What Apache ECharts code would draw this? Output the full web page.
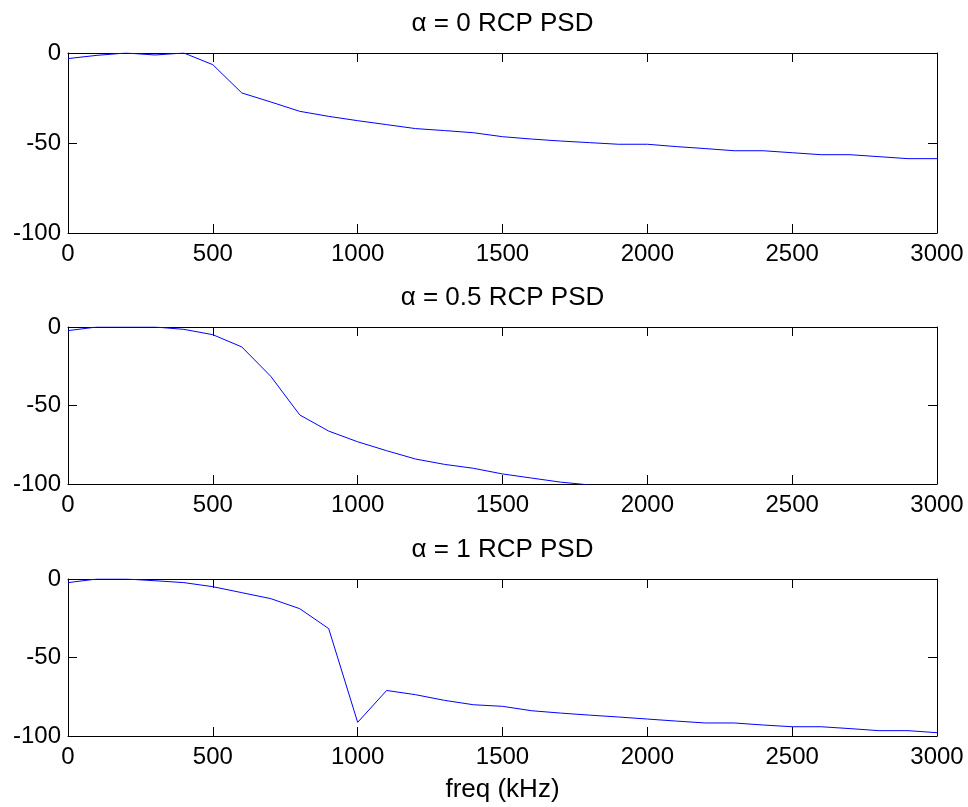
<!DOCTYPE html>
<html>
<head>
<meta charset="utf-8">
<script src="https://cdn.jsdelivr.net/npm/echarts@6/dist/echarts.min.js"></script>
<style>
  html, body { margin: 0; padding: 0; background: #ffffff; }
  #chart { width: 968px; height: 807px; }
</style>
</head>
<body>
<div id="chart"></div>
<script>
// ---- data ----
var freq = [0, 100, 200, 300, 400, 500, 600, 700, 800, 900, 1000,
            1100, 1200, 1300, 1400, 1500, 1600, 1700, 1800, 1900, 2000,
            2100, 2200, 2300, 2400, 2500, 2600, 2700, 2800, 2900, 3000];

var psdAlpha0 = [-3.1, -1.3, 0, -1.1, 0, -6.5, -22.2, -27.2, -32.4, -35.2, -37.6,
                 -39.8, -42.0, -43.1, -44.3, -46.5, -47.8, -48.9, -49.8, -50.7, -50.7,
                 -52.0, -53.1, -54.3, -54.3, -55.4, -56.5, -56.5, -57.6, -58.7, -58.7];

// alpha = 0.5 drops below the -100 axis floor after ~1770 kHz (clipped in the plot)
var psdAlpha05 = [-2.3, 0, 0, 0, -1.5, -4.9, -12.7, -31.4, -56.0, -66.3, -73.1,
                  -78.8, -84.1, -87.5, -90.0, -93.6, -96.2, -98.8, -100.6];

var psdAlpha1 = [-2.3, 0, 0, -1.1, -2.3, -4.9, -8.7, -12.5, -18.9, -31.6, -91.3,
                 -71.0, -73.7, -77.3, -80.1, -81.1, -83.9, -85.4, -86.7, -87.9, -89.2,
                 -90.5, -91.7, -91.7, -93.0, -94.1, -94.1, -95.3, -96.6, -96.6, -97.9];

var titles = ['\u03B1 = 0 RCP PSD', '\u03B1 = 0.5 RCP PSD', '\u03B1 = 1 RCP PSD'];
var xLabel = 'freq (kHz)';
var xMin = 0, xMax = 3000, xStep = 500;
var yMin = -100, yMax = 0, yStep = 50;

// ---- layout ----
var FONT = "'Liberation Sans', Arial, Helvetica, sans-serif";
var grids = [
  { left: 68, top: 53, width: 869, height: 180 },
  { left: 68, top: 327, width: 869, height: 157 },
  { left: 68, top: 579, width: 869, height: 157 }
];
var titleTops = [11, 285, 537];

function pairs(xs, ys) {
  var out = [];
  for (var i = 0; i < ys.length; i++) out.push([xs[i], ys[i]]);
  return out;
}
function plain(v) { return String(v); }
var seriesData = [psdAlpha0, psdAlpha05, psdAlpha1];

var option = {
  backgroundColor: '#ffffff',
  animation: false,
  title: [],
  grid: [],
  xAxis: [],
  yAxis: [],
  series: []
};

var lineStyle = { color: '#000000', width: 1 };
var labelStyle = { color: '#000000', fontSize: 24, fontFamily: FONT, formatter: plain };

for (var g = 0; g < 3; g++) {
  option.grid.push(Object.assign({ containLabel: false }, grids[g]));
  option.title.push({
    text: titles[g],
    left: 502.5,
    top: titleTops[g],
    textAlign: 'center',
    padding: 0,
    textStyle: { color: '#000000', fontSize: 26, fontWeight: 'normal', fontFamily: FONT, lineHeight: 26 }
  });
  // bottom x axis
  var xb = {
    type: 'value', gridIndex: g, position: 'bottom',
    min: xMin, max: xMax, interval: xStep,
    axisLine: { show: true, onZero: false, lineStyle: lineStyle },
    axisTick: { show: true, inside: true, length: 9, lineStyle: lineStyle },
    axisLabel: Object.assign({ show: true, margin: 9 }, labelStyle),
    splitLine: { show: false }
  };
  if (g === 2) {
    xb.name = xLabel;
    xb.nameLocation = 'middle';
    xb.nameGap = 41;
    xb.nameTextStyle = { color: '#000000', fontSize: 26, fontFamily: FONT, lineHeight: 26 };
  }
  option.xAxis.push(xb);
  // top x axis (box + mirrored ticks)
  option.xAxis.push({
    type: 'value', gridIndex: g, position: 'top',
    min: xMin, max: xMax, interval: xStep,
    axisLine: { show: true, onZero: false, lineStyle: lineStyle },
    axisTick: { show: true, inside: true, length: 9, lineStyle: lineStyle },
    axisLabel: { show: false },
    splitLine: { show: false }
  });
  // left y axis
  option.yAxis.push({
    type: 'value', gridIndex: g, position: 'left',
    min: yMin, max: yMax, interval: yStep,
    axisLine: { show: true, onZero: false, lineStyle: lineStyle },
    axisTick: { show: true, inside: true, length: 9, lineStyle: lineStyle },
    axisLabel: Object.assign({ show: true, margin: 7 }, labelStyle),
    splitLine: { show: false }
  });
  // right y axis
  option.yAxis.push({
    type: 'value', gridIndex: g, position: 'right',
    min: yMin, max: yMax, interval: yStep,
    axisLine: { show: true, onZero: false, lineStyle: lineStyle },
    axisTick: { show: true, inside: true, length: 9, lineStyle: lineStyle },
    axisLabel: { show: false },
    splitLine: { show: false }
  });
  option.series.push({
    type: 'line',
    xAxisIndex: g * 2,
    yAxisIndex: g * 2,
    data: pairs(freq, seriesData[g]),
    showSymbol: false,
    symbol: 'none',
    clip: true,
    lineStyle: { color: '#0000ff', width: 1 },
    itemStyle: { color: '#0000ff' }
  });
}

var chart = echarts.init(document.getElementById('chart'), null, { renderer: 'canvas' });
chart.setOption(option);
</script>
</body>
</html>
